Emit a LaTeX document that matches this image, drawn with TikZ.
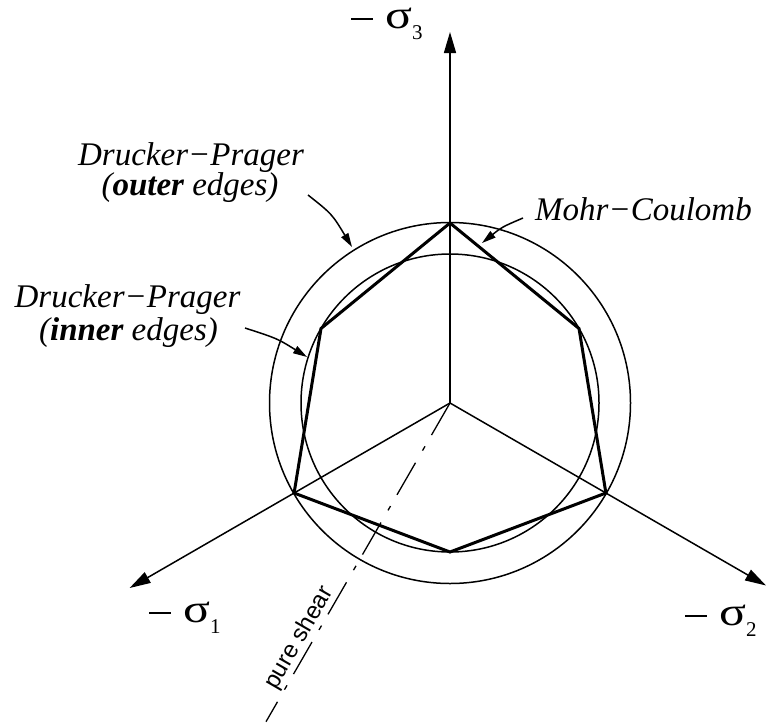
\documentclass[tikz,border=0pt]{standalone}
\usepackage{fontspec}
\usepackage{graphicx}
\setmainfont{Liberation Serif}
\newfontfamily\labsans{Liberation Sans}
\usetikzlibrary{arrows.meta}
\newcommand\sigmalab[1]{\rule[8pt]{22pt}{1.7pt}\hspace{12pt}{\fontsize{40}{40}\selectfont\scalebox{1.25}[1]{σ}}\raisebox{-11pt}{\fontsize{21}{21}\selectfont #1}}
\begin{document}
\begin{tikzpicture}[x=1pt,y=-1pt,
  thinline/.style={line width=1.5pt},
  hexline/.style={line width=3pt, line join=miter},
  axisline/.style={line width=1.5pt, -{Triangle[length=21pt,width=12pt]}},
  ptr/.style={line width=1.5pt, -{Triangle[length=14pt,width=8pt]}},
  lab/.style={font=\fontsize{33}{33}\selectfont\itshape, inner sep=0pt},
  siglab/.style={inner sep=0pt, anchor=base west}]
\useasboundingbox (0,0) rectangle (767,723);
% key points
\coordinate (C) at (450,403);
\coordinate (T) at (450,223);
\coordinate (V1) at (294.1,493);
\coordinate (V2) at (605.9,493);
\coordinate (I1) at (321.0,328.5);
\coordinate (I2) at (579.0,328.5);
\coordinate (I3) at (450,552);
\coordinate (A3) at (450,32);
\coordinate (A1) at (129.6,588);
\coordinate (A2) at (766,585.5);
\coordinate (PS) at (266,721.7);
% circles
\draw[thinline] (C) circle[radius=180.5];
\draw[thinline] (C) circle[radius=149];
% axes
\draw[axisline] (C) -- (A3);
\draw[axisline] (C) -- (A1);
\draw[axisline] (C) -- (A2);
% Mohr-Coulomb hexagon
\draw[hexline] (T) -- (I2) -- (V2) -- (I3) -- (V1) -- (I1) -- cycle;
% pure shear
\draw[line width=1.3pt, dash pattern=on 37pt off 13pt on 5pt off 14pt] (C) -- (PS);
\node[font=\labsans\fontsize{24}{24}\selectfont, rotate=60, anchor=south, inner sep=1.5pt] (psl) at (310.5,644.6) {pure shear};
% axis labels
\node[siglab] (s3) at (351,28) {\sigmalab{3}};
\node[siglab] (s1) at (149,622) {\sigmalab{1}};
\node[siglab] (s2) at (685,625) {\sigmalab{2}};
% text labels
\node[lab, anchor=base] (dpo1) at (191,165) {Drucker−Prager};
\node[lab, anchor=base] (dpo2) at (190,195) {(\textbf{outer} edges)};
\node[lab, anchor=base] (dpi1) at (127.5,307) {Drucker−Prager};
\node[lab, anchor=base] (dpi2) at (128.5,340) {(\textbf{inner} edges)};
\node[lab, anchor=base west] (mc) at (535,220) {Mohr−Coulomb};
% pointers
\coordinate (po0) at (308,195);
\coordinate (po1) at (352,247);
\coordinate (pi0) at (245,328);
\coordinate (pi1) at (307,357);
\coordinate (pm0) at (523,218);
\coordinate (pm1) at (482,243);
\draw[ptr] (po0) .. controls (332,214) .. (po1);
\draw[ptr] (pi0) .. controls (277.3,338.5) .. (pi1);
\draw[ptr] (pm0) .. controls (502,227) .. (pm1);
\end{tikzpicture}
\end{document}
